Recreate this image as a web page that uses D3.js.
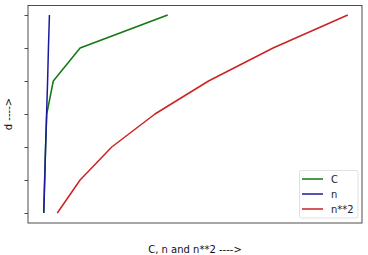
<!DOCTYPE html>
<html>
<head>
<meta charset="utf-8">
<script src="https://cdn.jsdelivr.net/npm/d3@7"></script>
<style>
  html, body { margin: 0; padding: 0; background: #fff; }
  svg { display: block; font-family: "DejaVu Sans", sans-serif; }
</style>
</head>
<body>
<svg id="chart" width="368" height="255"></svg>
<script>
// ---- data ----
const d = [1, 2, 3, 4, 5, 6, 7];
const C = [9, 14, 20, 27, 66, 226, 749];
const n = [9, 15, 20, 26, 32, 37, 43];
const n2 = [90, 226, 415, 673, 993, 1378, 1824];
const seriesNames = ["C", "n", "n**2"];
const seriesColors = ["#117711", "#1a1aa0", "#cc2222"];
const xLabel = "C, n and n**2 ---->";
const yLabel = "d ---->";

// ---- layout ----
const box = { left: 28, right: 362, top: 5.5, bottom: 223 };
const svg = d3.select("#chart");

const x = d3.scaleLinear().domain([-85, 1909]).range([box.left, box.right]);
const y = d3.scaleLinear().domain([0.5, 7.5])
  .range([box.bottom + (box.bottom - box.top) * 0 , box.top]);
// align ticks: 1 -> 213, 7 -> 15
y.domain([1 - (223 - 213) / 33, 7 + (15 - 5.5) / 33]);

// y ticks (no labels)
const yAxis = d3.axisLeft(y).tickValues(d).tickSize(3.5).tickFormat("");
const gy = svg.append("g").attr("transform", `translate(${box.left},0)`).call(yAxis);
gy.select(".domain").remove();
gy.selectAll("line").attr("stroke", "#222").attr("stroke-width", 0.8);

// lines
const allSeries = [C, n, n2];
const line = d3.line().x(p => x(p[0])).y(p => y(p[1]));
allSeries.forEach((vals, i) => {
  svg.append("path")
    .datum(vals.map((v, j) => [v, d[j]]))
    .attr("fill", "none")
    .attr("stroke", seriesColors[i])
    .attr("stroke-width", 1.5)
    .attr("stroke-linejoin", "round")
    .attr("d", line);
});

// frame
svg.append("rect")
  .attr("x", box.left).attr("y", box.top)
  .attr("width", box.right - box.left).attr("height", box.bottom - box.top)
  .attr("fill", "none").attr("stroke", "#222").attr("stroke-width", 0.8);

// legend
const lg = svg.append("g");
lg.append("rect")
  .attr("x", 299.5).attr("y", 170.5).attr("width", 58.5).attr("height", 47.5)
  .attr("rx", 2).attr("fill", "#fff").attr("fill-opacity", 0.85)
  .attr("stroke", "#d8d8d8").attr("stroke-width", 0.8);
seriesNames.forEach((name, i) => {
  const yy = 179 + i * 15;
  lg.append("line")
    .attr("x1", 302).attr("x2", 323).attr("y1", yy).attr("y2", yy)
    .attr("stroke", seriesColors[i]).attr("stroke-width", 1.5);
  lg.append("text")
    .attr("x", 331).attr("y", yy).attr("dy", "0.36em")
    .attr("font-size", 10).attr("fill", "#222").text(name);
});

// axis labels
svg.append("text")
  .attr("x", 195).attr("y", 249).attr("dy", "0.35em")
  .attr("text-anchor", "middle").attr("font-size", 10).attr("fill", "#111")
  .text(xLabel);
svg.append("text")
  .attr("transform", "translate(8,114) rotate(-90)")
  .attr("dy", "0.35em")
  .attr("text-anchor", "middle").attr("font-size", 10).attr("fill", "#111")
  .text(yLabel);
</script>
</body>
</html>
